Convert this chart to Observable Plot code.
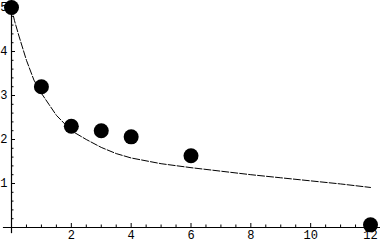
<!DOCTYPE html>
<html><head><meta charset="utf-8">
<script src="https://cdn.jsdelivr.net/npm/d3@7"></script>
<script src="https://cdn.jsdelivr.net/npm/@observablehq/plot@0.6"></script>
<style>html,body{margin:0;padding:0;background:#fff}svg{display:block}</style>
</head><body><div id="chart"></div>
<script>
// Measured points
const pointX = [0, 1, 2, 3, 4, 6, 12];
const pointY = [5, 3.2, 2.3, 2.2, 2.06, 1.63, 0.06];
// Fitted curve
const curveX = [0, 0.1, 0.25, 0.5, 0.75, 1, 1.25, 1.5, 2, 2.5, 3, 3.5, 4, 5, 6, 7, 8, 9, 10, 11, 12];
const curveY = [5.0, 4.7, 4.35, 3.8, 3.35, 3.05, 2.8, 2.55, 2.2, 2.0, 1.82, 1.68, 1.58, 1.45, 1.36, 1.28, 1.2, 1.13, 1.06, 0.99, 0.91];
// Ticks
const xMajor = [2, 4, 6, 8, 10, 12];
const xMinor = [0.5, 1, 1.5, 2.5, 3, 3.5, 4.5, 5, 5.5, 6.5, 7, 7.5, 8.5, 9, 9.5, 10.5, 11, 11.5];
const yMajor = [1, 2, 3, 4, 5];
const yMinor = [0.2, 0.4, 0.6, 0.8, 1.2, 1.4, 1.6, 1.8, 2.2, 2.4, 2.6, 2.8, 3.2, 3.4, 3.6, 3.8, 4.2, 4.4, 4.6, 4.8];
// Axis line extents
const xAxisExtent = [-0.27, 12.4];
const yAxisExtent = [-0.14, 5.2];

const points = pointX.map((x, i) => ({x, y: pointY[i]}));
const curve = curveX.map((x, i) => ({x, y: curveY[i]}));

const chart = Plot.plot({
  width: 380, height: 244,
  marginLeft: 11, marginRight: 10, marginTop: 7, marginBottom: 17,
  x: {domain: [0, 12], label: null},
  y: {domain: [0, 5], label: null},
  style: {fontFamily: "'Liberation Mono', monospace", fontSize: "12px", background: "#fff", color: "#000"},
  marks: [
    Plot.ruleY([0], {x1: xAxisExtent[0], x2: xAxisExtent[1], stroke: "#000", strokeWidth: 1.2}),
    Plot.ruleX([0], {y1: yAxisExtent[0], y2: yAxisExtent[1], stroke: "#000", strokeWidth: 1.2}),
    Plot.axisX(xMinor, {tickSize: -2.5, text: null, label: null, stroke: "#000"}),
    Plot.axisX(xMajor, {tickSize: -4, text: null, label: null, stroke: "#000"}),
    Plot.axisX(xMajor, {tickSize: 0, tickPadding: 3, tickFormat: d => String(d), label: null, fill: "#000"}),
    Plot.axisY(yMinor, {tickSize: -2.5, text: null, label: null, stroke: "#000"}),
    Plot.axisY(yMajor, {tickSize: -4, text: null, label: null, stroke: "#000"}),
    Plot.axisY(yMajor, {tickSize: 0, tickPadding: 4, tickFormat: d => String(d), label: null, fill: "#000"}),
    Plot.line(curve, {x: "x", y: "y", stroke: "#000", strokeWidth: 1, strokeDasharray: "7,2"}),
    Plot.dot(points, {x: "x", y: "y", r: 7.5, fill: "#000", stroke: "none"})
  ]
});
document.getElementById("chart").appendChild(chart);
</script>
</body></html>
